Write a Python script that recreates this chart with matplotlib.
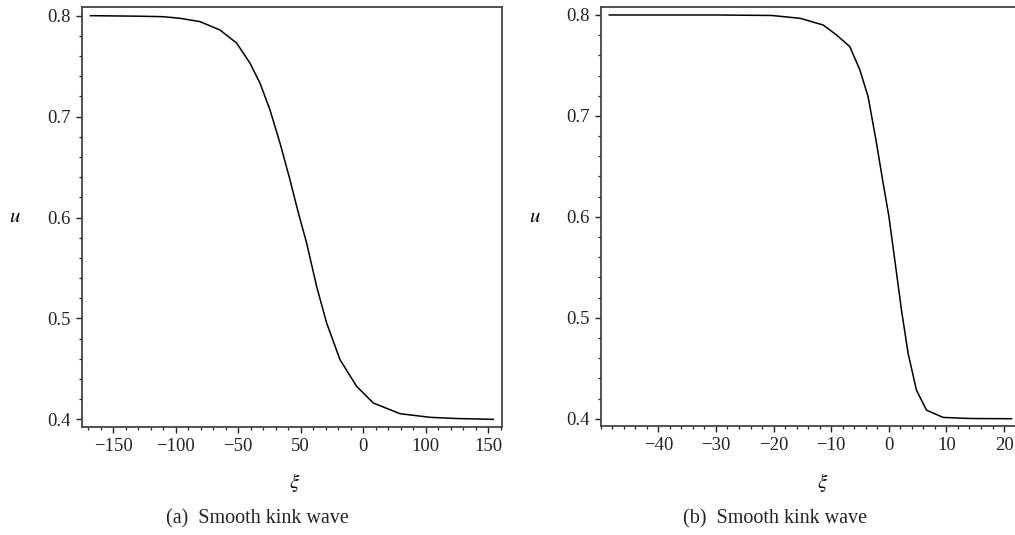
import matplotlib
matplotlib.use("Agg")
import matplotlib.pyplot as plt
from matplotlib.ticker import MultipleLocator

plt.rcParams['font.family'] = ['Liberation Serif', 'DejaVu Serif']
plt.rcParams['mathtext.fontset'] = 'stix'

# (a) curve
xi_a = [-168, -130, -110, -96.4, -80.4, -64.4, -51.0, -40.4, -32.4, -24.4, -16.4, -8.4,
        -1.8, 4.9, 12.9, 20.9, 31.6, 44.9, 58.2, 79.6, 103.6, 125, 154.2]
u_a = [0.800, 0.7995, 0.799, 0.7974, 0.7941, 0.7858, 0.7727, 0.7529, 0.7331, 0.7066,
       0.6737, 0.6373, 0.6050, 0.5747, 0.5317, 0.4955, 0.4591, 0.4327, 0.4162, 0.4056,
       0.4020, 0.4008, 0.400]
ticks_a = [-150, -100, -50, 0, 50, 100, 150]
labels_a = ['\u2212150', '\u2212100', '\u221250', '50', '0', '100', '150']

# (b) curve
xi_b = [-48.5, -30, -20.3, -15.4, -11.4, -9.07, -6.76, -5.02, -3.59, -2.13, -0.98,
        0.0, 1.04, 2.2, 3.35, 4.8, 6.54, 9.42, 14.3, 21.3]
u_b = [0.800, 0.800, 0.7995, 0.7967, 0.7901, 0.7802, 0.7686, 0.7455, 0.7190, 0.6728,
       0.6332, 0.6010, 0.5572, 0.5076, 0.4647, 0.4283, 0.4085, 0.4013, 0.4002, 0.400]
ticks_b = [-40, -30, -20, -10, 0, 10, 20]
labels_b = ['\u221240', '\u221230', '\u221220', '\u221210', '0', '10', '20']

W, H = 1015, 535
fig = plt.figure(figsize=(W / 100, H / 100), dpi=100)

ax1 = fig.add_axes([82 / W, (H - 426.7) / H, 420 / W, 419.4 / H])
ax2 = fig.add_axes([600.7 / W, (H - 426) / H, 414.3 / W, 419.3 / H])

ax1.plot(xi_a, u_a, color='black', lw=1.1)
ax1.set_xlim(-174.8, 161.2)
ax1.set_ylim(0.3927, 0.8083)
ax1.set_xticks(ticks_a)
ax1.set_xticklabels(labels_a)
ax1.xaxis.set_minor_locator(MultipleLocator(10))

ax2.plot(xi_b, u_b, color='black', lw=1.1)
ax2.set_xlim(-50, 21.9)
ax2.set_ylim(0.3928, 0.8082)
ax2.set_xticks(ticks_b)
ax2.set_xticklabels(labels_b)
ax2.xaxis.set_minor_locator(MultipleLocator(2))
ax2.spines['right'].set_visible(False)

for ax in (ax1, ax2):
    ax.set_yticks([0.4, 0.5, 0.6, 0.7, 0.8])
    ax.set_yticklabels(['0.4', '0.5', '0.6', '0.7', '0.8'])
    ax.yaxis.set_minor_locator(MultipleLocator(0.02))
    ax.tick_params(which='major', direction='out', length=4, width=1, labelsize=13.5,
                   colors='#222222', pad=4)
    ax.tick_params(which='minor', direction='out', length=2, width=0.9, color='#222222')
    ax.tick_params(top=False, right=False)
    for s in ax.spines.values():
        s.set_color('#444444')
        s.set_linewidth(1.3)

# axis labels and captions
fig.text(15 / W, 1 - 217 / H, r'$u$', fontsize=15, ha='center', va='center')
fig.text(535 / W, 1 - 217 / H, r'$u$', fontsize=15, ha='center', va='center')
fig.text(295 / W, 1 - 483 / H, r'$\xi$', fontsize=15, ha='center', va='center')
fig.text(823 / W, 1 - 483 / H, r'$\xi$', fontsize=15, ha='center', va='center')
fig.text(257 / W, 1 - 519 / H, '(a)  Smooth kink wave', fontsize=14.5, ha='center',
         va='center', color='#222222')
fig.text(775 / W, 1 - 519 / H, '(b)  Smooth kink wave', fontsize=14.5, ha='center',
         va='center', color='#222222')

fig.savefig('out.png', dpi=100)
